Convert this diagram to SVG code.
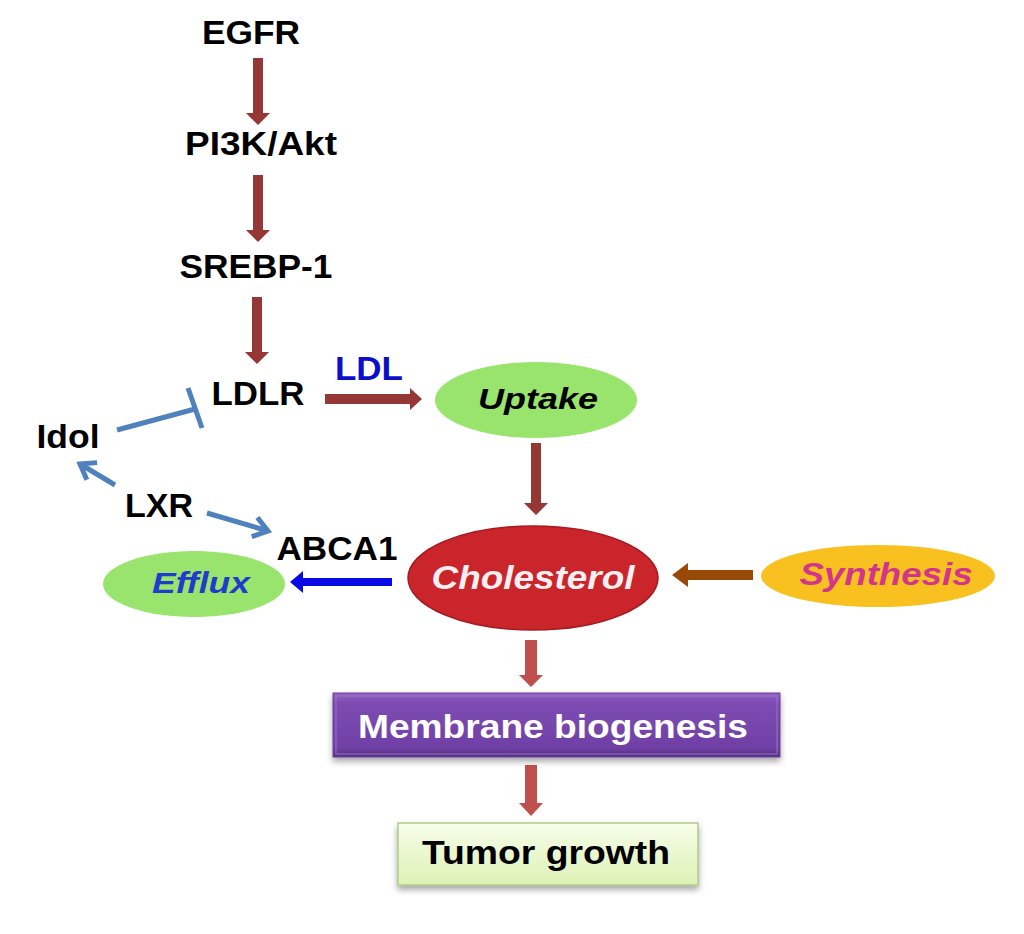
<svg xmlns="http://www.w3.org/2000/svg" width="1024" height="934" viewBox="0 0 1024 934">
<style>
  text { font-family: "Liberation Sans", Arial, sans-serif; font-weight: bold; text-anchor: middle; }
  .lbl { font-size: 33px; fill: #000; }
  .it { font-style: italic; }
  .dr { fill: #953735; }
  .lr { fill: #c0504d; }
  .blu { fill: #0a0ae6; }
  .brn { fill: #984807; }
  .sb { stroke: #4f81bd; stroke-width: 5; fill: none; stroke-linecap: butt; }
</style>
<defs>
  <marker id="open" viewBox="-2 -12 20 24" markerWidth="20" markerHeight="24" refX="14" refY="0" orient="auto" markerUnits="userSpaceOnUse">
    <path d="M0,-10 L14,0 L0,10" fill="none" stroke="#4f81bd" stroke-width="5"/>
  </marker>
  <linearGradient id="purple" x1="0" y1="0" x2="0" y2="1">
    <stop offset="0" stop-color="#9366c8"/>
    <stop offset="0.15" stop-color="#7d4cb2"/>
    <stop offset="0.85" stop-color="#7040a6"/>
    <stop offset="1" stop-color="#553080"/>
  </linearGradient>
  <linearGradient id="lgreen" x1="0" y1="0" x2="0" y2="1">
    <stop offset="0" stop-color="#f7fdea"/>
    <stop offset="1" stop-color="#dcf2b4"/>
  </linearGradient>
  <filter id="shadow" x="-10%" y="-20%" width="120%" height="150%">
    <feDropShadow dx="0" dy="4" stdDeviation="3" flood-color="#000" flood-opacity="0.35"/>
  </filter>
</defs>

<g id="connectors">
  <polygon class="dr" points="253,58 263,58 263,113 270,113 258,125 246,113 253,113"/>
  <polygon class="dr" points="253,175 263,175 263,230 270,230 258,242 246,230 253,230"/>
  <polygon class="dr" points="252,297 262,297 262,352 269,352 257,364 245,352 252,352"/>
  <polygon class="dr" points="325,394 410,394 410,388 422,399 410,410 410,404 325,404"/>
  <polygon class="dr" points="531,443 541,443 541,503 548,503 536,515 524,503 531,503"/>
  <polygon class="lr" points="525,640 537,640 537,675 543,675 531,687 519,675 525,675"/>
  <polygon class="lr" points="525,765 537,765 537,803 543,803 531,816 519,803 525,803"/>
  <polygon class="blu" points="392,578 303,578 303,571 290,582 303,593 303,586 392,586"/>
  <polygon class="brn" points="753,570 688,570 688,563 672,575 688,587 688,580 753,580"/>
  <line class="sb" x1="117" y1="430" x2="195" y2="409"/>
  <line class="sb" x1="188" y1="388" x2="202" y2="428"/>
  <line class="sb" x1="115" y1="485" x2="80" y2="464" marker-end="url(#open)"/>
  <line class="sb" x1="207" y1="513" x2="268" y2="531" marker-end="url(#open)"/>
</g>

<g id="egfr"><text class="lbl" x="251" y="44" textLength="98" lengthAdjust="spacingAndGlyphs">EGFR</text></g>
<g id="pi3k"><text class="lbl" x="261" y="155" textLength="152" lengthAdjust="spacingAndGlyphs">PI3K/Akt</text></g>
<g id="srebp"><text class="lbl" x="256" y="278" textLength="153" lengthAdjust="spacingAndGlyphs">SREBP-1</text></g>
<g id="ldlr"><text class="lbl" x="258" y="405" textLength="93" lengthAdjust="spacingAndGlyphs">LDLR</text></g>
<g id="ldl"><text class="lbl" x="369" y="380" textLength="68" lengthAdjust="spacingAndGlyphs" style="fill:#0b10c8">LDL</text></g>
<g id="idol"><text class="lbl" x="68" y="448" textLength="63" lengthAdjust="spacingAndGlyphs">Idol</text></g>
<g id="lxr"><text class="lbl" x="159" y="517" textLength="68" lengthAdjust="spacingAndGlyphs">LXR</text></g>
<g id="abca1"><text class="lbl" x="337" y="560" textLength="121" lengthAdjust="spacingAndGlyphs">ABCA1</text></g>

<g id="uptake">
  <ellipse cx="536" cy="400" rx="101" ry="38" fill="#98e46c"/>
  <text class="it" x="538" y="409" font-size="30" textLength="120" lengthAdjust="spacingAndGlyphs" fill="#000">Uptake</text>
</g>
<g id="efflux">
  <ellipse cx="194" cy="584" rx="91" ry="33" fill="#98e46c"/>
  <text class="it" x="201" y="593" font-size="30" textLength="98" lengthAdjust="spacingAndGlyphs" fill="#1f3ccc">Efflux</text>
</g>
<g id="cholesterol">
  <ellipse cx="533" cy="578" rx="125" ry="52" fill="#c9252b" stroke="#a81a20" stroke-width="1.5"/>
  <text class="it" x="533" y="589" font-size="33" textLength="203" lengthAdjust="spacingAndGlyphs" fill="#fbeef0">Cholesterol</text>
</g>
<g id="synthesis">
  <ellipse cx="878" cy="576" rx="117" ry="31" fill="#f9c11f"/>
  <text class="it" x="886" y="585" font-size="32" textLength="173" lengthAdjust="spacingAndGlyphs" fill="#d3348c">Synthesis</text>
</g>
<g id="membrane">
  <rect x="333" y="693" width="447" height="64" fill="url(#purple)" stroke="#6a3d9a" stroke-width="1" filter="url(#shadow)"/>
  <rect x="336" y="696" width="441" height="58" fill="none" stroke="#9a78c8" stroke-width="1.5" opacity="0.6"/>
  <text x="553" y="738" font-size="34" textLength="390" lengthAdjust="spacingAndGlyphs" fill="#fff">Membrane biogenesis</text>
</g>
<g id="tumor">
  <rect x="398" y="823" width="300" height="62" fill="url(#lgreen)" stroke="#b0c98a" stroke-width="1.5" filter="url(#shadow)"/>
  <text x="546" y="864" font-size="33" textLength="248" lengthAdjust="spacingAndGlyphs" fill="#000">Tumor growth</text>
</g>
</svg>
